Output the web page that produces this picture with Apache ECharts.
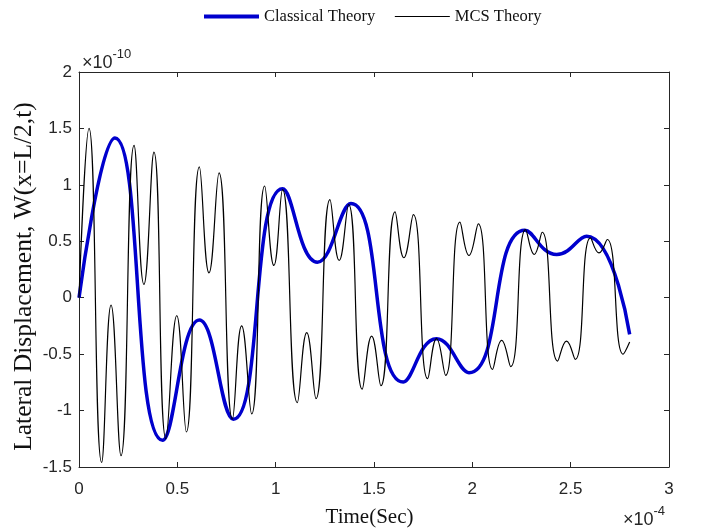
<!DOCTYPE html>
<html><head><meta charset="utf-8">
<script src="https://cdn.jsdelivr.net/npm/echarts@6/dist/echarts.min.js"></script>
<style>html,body{margin:0;padding:0;background:#fff}#c{width:702px;height:532px}</style>
</head><body><div id="c"></div>
<script>
// Time in units of 1e-4 s, displacement in units of 1e-10
const xTicks = [0, 0.5, 1, 1.5, 2, 2.5, 3];
const yTicks = [-1.5, -1, -0.5, 0, 0.5, 1, 1.5, 2];

const classicalT = [0, 0.183, 0.425, 0.612, 0.785, 1.035, 1.212, 1.383, 1.649, 1.818, 1.983, 2.267, 2.429, 2.581, 2.80];
const classicalW = [0, 1.416, -1.263, -0.198, -1.077, 0.965, 0.315, 0.834, -0.747, -0.363, -0.664, 0.598, 0.383, 0.545, -0.325];

const mcsT = [0, 0.051, 0.115, 0.163, 0.2135, 0.28, 0.33, 0.381, 0.442, 0.497, 0.546, 0.612, 0.661, 0.712, 0.78, 0.827, 0.878, 0.944, 0.991, 1.035, 1.11, 1.158, 1.205, 1.276, 1.323, 1.371, 1.44, 1.488, 1.535, 1.607, 1.652, 1.70, 1.773, 1.818, 1.864, 1.937, 1.983, 2.03, 2.103, 2.149, 2.195, 2.271, 2.315, 2.355, 2.434, 2.479, 2.523, 2.601, 2.644, 2.686, 2.767, 2.80];
const mcsW = [0, 1.50, -1.46, -0.065, -1.40, 1.35, 0.118, 1.29, -1.25, -0.16, -1.19, 1.16, 0.22, 1.106, -1.077, -0.25, -1.03, 0.99, 0.286, 0.958, -0.93, -0.31, -0.894, 0.87, 0.33, 0.826, -0.81, -0.34, -0.78, 0.76, 0.354, 0.737, -0.717, -0.363, -0.688, 0.669, 0.374, 0.655, -0.635, -0.378, -0.61, 0.604, 0.383, 0.58, -0.561, -0.384, -0.546, 0.531, 0.398, 0.516, -0.50, -0.393];

const seriesNames = ['Classical Theory', 'MCS Theory'];

const zip = (a, b) => a.map((v, i) => [v, b[i]]);
const axisColor = '#262626';
const labelFont = 'Liberation Sans';
const serif = 'Liberation Serif';
const blue = '#0000CD';

const chart = echarts.init(document.getElementById('c'), null, {renderer: 'canvas'});
const xBase = {
  type: 'value', min: xTicks[0], max: xTicks[xTicks.length - 1], interval: 0.5,
  splitLine: {show: false},
  axisLine: {show: true, onZero: false, lineStyle: {color: axisColor, width: 1}},
  axisTick: {show: true, inside: true, length: 5, lineStyle: {color: axisColor}},
};
const yBase = {
  type: 'value', min: yTicks[0], max: yTicks[yTicks.length - 1], interval: 0.5,
  splitLine: {show: false},
  axisLine: {show: true, onZero: false, lineStyle: {color: axisColor, width: 1}},
  axisTick: {show: true, inside: true, length: 5, lineStyle: {color: axisColor}},
};
const expRich = {
  b: {fontFamily: labelFont, fontSize: 18, lineHeight: 24, verticalAlign: 'bottom', fill: axisColor},
  s: {fontFamily: labelFont, fontSize: 13, lineHeight: 24, verticalAlign: 'top', fill: axisColor}
};
chart.setOption({
  animation: false,
  backgroundColor: '#fff',
  grid: {left: 79, right: 33, top: 72, bottom: 65, containLabel: false, outerBoundsMode: 'none'},
  legend: {
    left: 197, top: 3, itemWidth: 55, itemHeight: 16, itemGap: 19,
    data: [
      {name: seriesNames[0], lineStyle: {width: 4, color: blue}},
      {name: seriesNames[1], lineStyle: {width: 1, color: '#000'}}
    ],
    itemStyle: {opacity: 0},
    textStyle: {fontFamily: serif, fontSize: 16.5, color: '#111'}
  },
  xAxis: [
    Object.assign({}, xBase, {
      position: 'bottom',
      name: 'Time(Sec)', nameLocation: 'middle', nameGap: 40, nameMoveOverlap: false,
      nameTextStyle: {fontFamily: serif, fontSize: 21, color: '#111', padding: [0, 9, 0, 0]},
      axisLabel: {show: true, margin: 14, fontFamily: labelFont, fontSize: 17, color: axisColor,
        formatter: v => String(v)}
    }),
    Object.assign({}, xBase, {position: 'top', axisLabel: {show: false}})
  ],
  yAxis: [
    Object.assign({}, yBase, {
      position: 'left',
      name: 'Lateral Displacement, W(x=L/2,t)', nameLocation: 'middle', nameGap: 42, nameMoveOverlap: false,
      nameTextStyle: {fontFamily: serif, fontSize: 25.5, color: '#111', padding: [0, 14, 0, 0]},
      axisLabel: {show: true, margin: 7, fontFamily: labelFont, fontSize: 17, color: axisColor,
        formatter: v => String(v)}
    }),
    Object.assign({}, yBase, {position: 'right', axisLabel: {show: false}})
  ],
  series: [
    {
      name: seriesNames[0], type: 'line', xAxisIndex: 0, yAxisIndex: 0,
      data: zip(classicalT, classicalW), smooth: 0.5, symbol: 'none', showSymbol: false,
      lineStyle: {color: blue, width: 3.5}, itemStyle: {color: blue}, z: 2
    },
    {
      name: seriesNames[1], type: 'line', xAxisIndex: 0, yAxisIndex: 0,
      data: zip(mcsT, mcsW), smooth: 0.5, symbol: 'none', showSymbol: false,
      lineStyle: {color: '#000', width: 1.2}, itemStyle: {color: '#000'}, z: 3
    }
  ],
  graphic: [
    {
      type: 'text', x: 82, y: 48, silent: true,
      style: {text: '{b|×10}{s|-10}', fill: axisColor, rich: expRich}
    },
    {
      type: 'text', x: 623, y: 505, silent: true,
      style: {text: '{b|×10}{s|-4}', fill: axisColor, rich: expRich}
    }
  ]
});
</script>
</body></html>
